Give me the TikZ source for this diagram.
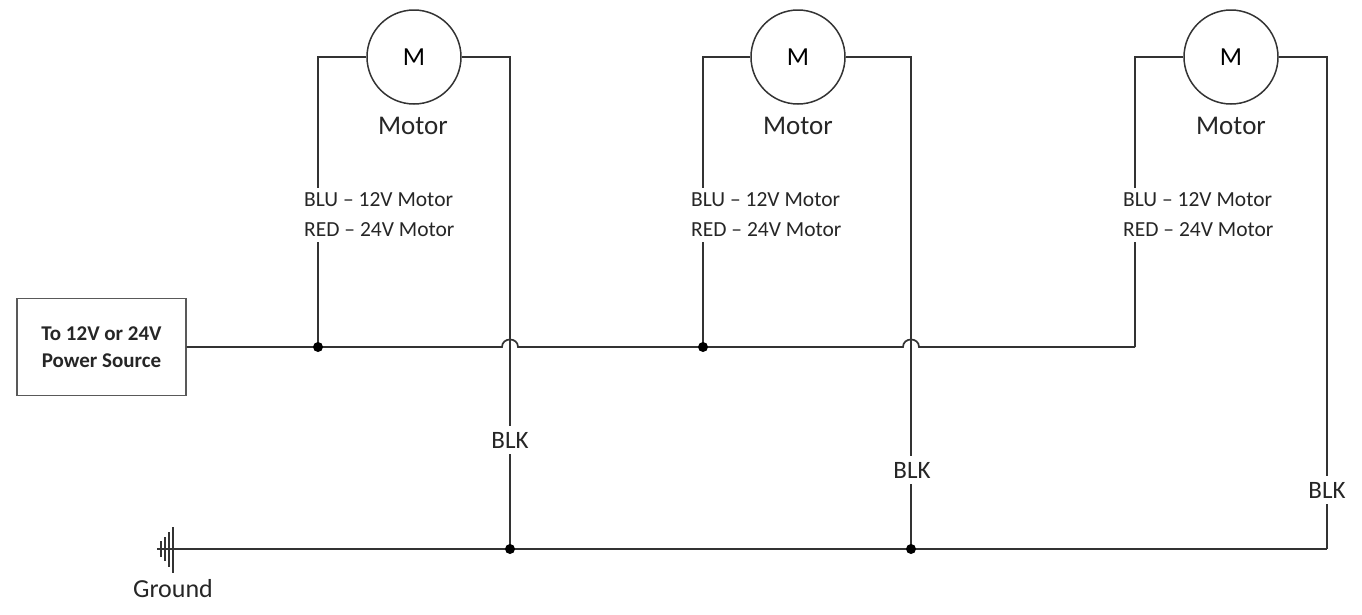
\documentclass[tikz,border=0pt]{standalone}
\usepackage{fontspec}
\setmainfont{Carlito}
\begin{document}
\begin{tikzpicture}[x=1pt,y=-1pt,
  wire/.style={line width=1.7pt, draw=black!80},
  motor/.style={circle, draw=black!80, line width=1.5pt, minimum size=94pt, inner sep=0pt, font=\fontsize{26}{26}\selectfont},
  mlabel/.style={font=\fontsize{27}{27}\selectfont, text=black!85},
  spec/.style={fill=white, inner sep=5pt, align=left, anchor=west, font=\fontsize{21.5}{30}\selectfont, text=black!85},
  blk/.style={fill=white, inner sep=6pt, font=\fontsize{25}{25}\selectfont, text=black!85},
  dot/.style={circle, fill=black, inner sep=0pt, minimum size=10pt},
  src/.style={draw=black!65, line width=1.3pt, minimum width=169pt, minimum height=97pt, align=center, font=\bfseries\fontsize{21}{27}\selectfont, text=black!85}]
\useasboundingbox (0,0) rectangle (1362,614);

% power source
\node[src] (ps) at (101.5,347) {To 12V or 24V\\Power Source};

% motors
\node[motor] (m1) at (414,57) {M};
\node[motor] (m2) at (798,57) {M};
\node[motor] (m3) at (1231,57) {M};
\node[mlabel] (t1) at (413,126) {Motor};
\node[mlabel] (t2) at (798,126) {Motor};
\node[mlabel] (t3) at (1231,126) {Motor};

% coordinates
\coordinate (a1) at (318,57);  \coordinate (j1) at (318,347);
\coordinate (b1) at (510,57);  \coordinate (g1) at (510,549);
\coordinate (a2) at (703,57);  \coordinate (j2) at (703,347);
\coordinate (b2) at (911,57);  \coordinate (g2) at (911,549);
\coordinate (a3) at (1135,57); \coordinate (j3) at (1135,347);
\coordinate (b3) at (1327,57); \coordinate (g3) at (1327,549);
\coordinate (h1w) at (502,347); \coordinate (h1e) at (518,347);
\coordinate (h2w) at (903,347); \coordinate (h2e) at (919,347);
\coordinate (gs) at (157,549);

% motor wires
\draw[wire] (m1.west) -- (a1) -- (j1);
\draw[wire] (m1.east) -- (b1) -- (g1);
\draw[wire] (m2.west) -- (a2) -- (j2);
\draw[wire] (m2.east) -- (b2) -- (g2);
\draw[wire] (m3.west) -- (a3) -- (j3);
\draw[wire] (m3.east) -- (b3) -- (g3);

% supply line with hops
\draw[wire] (ps.east) -- (h1w) .. controls (502,337) and (518,337) .. (h1e)
  -- (h2w) .. controls (903,337) and (919,337) .. (h2e) -- (j3);

% ground line
\draw[wire] (gs) -- (g3);

% ground symbol
\draw[wire] (173,527) -- (173,573);
\draw[wire] (169,532) -- (169,567);
\draw[wire] (165,537) -- (165,561);
\draw[wire] (161,541) -- (161,557);
\node[font=\fontsize{26}{26}\selectfont, text=black!85] (gl) at (173,589) {Ground};

% junction dots
\node[dot] (d1) at (j1) {};
\node[dot] (d2) at (j2) {};
\node[dot] (d3) at (g1) {};
\node[dot] (d4) at (g2) {};

% labels
\node[spec] (s1) at (299,215) {BLU – 12V Motor\\RED – 24V Motor};
\node[spec] (s2) at (686,215) {BLU – 12V Motor\\RED – 24V Motor};
\node[spec] (s3) at (1118,215) {BLU – 12V Motor\\RED – 24V Motor};
\node[blk] (k1) at (510,440) {BLK};
\node[blk] (k2) at (912,470) {BLK};
\node[blk] (k3) at (1327,490) {BLK};
\end{tikzpicture}
\end{document}
